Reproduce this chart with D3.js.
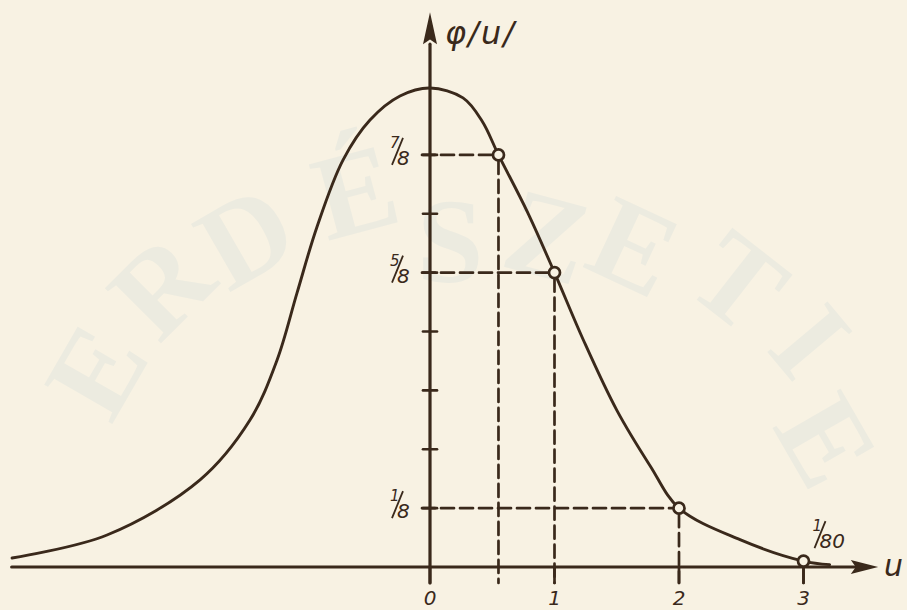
<!DOCTYPE html>
<html>
<head>
<meta charset="utf-8">
<script src="https://cdn.jsdelivr.net/npm/d3@7"></script>
<style>
  html, body { margin: 0; padding: 0; background: #f8f2e3; }
  svg { display: block; }
</style>
</head>
<body>
<svg id="chart" width="907" height="610"></svg>
<script>
// φ(u) curve, read as (u, φ) pairs
const curveU   = [-3.357, -2.594, -1.847, -1.446, -1.229, -1.068, -0.908, -0.699, -0.482, -0.241, 0, 0.265, 0.418, 0.55, 0.78, 1, 1.23, 1.50, 1.77, 2, 2.49, 3, 3.21];
const curvePhi = [0.019, 0.068, 0.185, 0.312, 0.439, 0.582, 0.722, 0.864, 0.949, 1.0, 1.017, 0.996, 0.947, 0.875, 0.755, 0.625, 0.483, 0.333, 0.214, 0.125, 0.058, 0.0125, 0.005];

// marked points on the curve and their labels
const markU   = [0.55, 1, 2, 3];
const markPhi = [7/8, 5/8, 1/8, 1/80];
const markNum = ["7", "5", "1", "1"];
const markDen = ["8", "8", "8", "80"];

// axis ticks
const yTickValues = [1/8, 2/8, 3/8, 4/8, 5/8, 6/8, 7/8];
const xTickValues = [0, 1, 2, 3];
const xTickLabels = ["0", "1", "2", "3"];

const ink = "#3a291b";
const paper = "#f8f2e3";
const svg = d3.select("#chart");

const x = d3.scaleLinear().domain([0, 1]).range([430, 554.5]);
const y = d3.scaleLinear().domain([0, 1]).range([567, 96]);

// faint paper watermark
const wm = svg.append("g").attr("font-family", "Liberation Serif, serif")
  .attr("font-weight", "bold").attr("font-size", 120).attr("fill", "#ecebe0")
  .attr("text-anchor", "middle");
[["E", 95, 370, -60], ["R", 160, 285, -45], ["D", 245, 235, -30], ["É", 355, 190, -15],
 ["S", 450, 240, 0], ["Z", 548, 235, 15], ["E", 635, 245, 25], ["T", 740, 280, 38],
 ["I", 812, 340, 50], ["E", 828, 440, 60]].forEach(([ch, cx, cy, r]) => {
  wm.append("text").attr("transform", `translate(${cx},${cy}) rotate(${r})`)
    .attr("dy", "0.35em").text(ch);
});

const g = svg.append("g").attr("stroke-linecap", "round");

// dashed guide lines from the axes to each marked point
const dash = "13,6";
markU.forEach((u, i) => {
  if (i === 3) return;
  g.append("line").attr("x1", x(0) - 8).attr("x2", x(u) - 5)
    .attr("y1", y(markPhi[i])).attr("y2", y(markPhi[i]))
    .attr("stroke", ink).attr("stroke-width", 2.7).attr("stroke-dasharray", dash);
  g.append("line").attr("x1", x(u)).attr("x2", x(u))
    .attr("y1", y(markPhi[i]) + 6).attr("y2", y(-0.034))
    .attr("stroke", ink).attr("stroke-width", 2.7).attr("stroke-dasharray", dash);
});
// solid stem under the last point
g.append("line").attr("x1", x(markU[3])).attr("x2", x(markU[3]))
  .attr("y1", y(markPhi[3]) + 5).attr("y2", y(-0.034))
  .attr("stroke", ink).attr("stroke-width", 2.7);

// x axis with arrow
g.append("line").attr("x1", x(-3.36)).attr("x2", x(3.45)).attr("y1", y(0)).attr("y2", y(0))
  .attr("stroke", ink).attr("stroke-width", 3.2);
g.append("path").attr("d", `M${x(3.6)},${y(0)} L${x(3.38)},${y(0) - 7} L${x(3.42)},${y(0)} L${x(3.38)},${y(0) + 7} Z`)
  .attr("fill", ink);

// y axis with arrow
g.append("line").attr("x1", x(0)).attr("x2", x(0)).attr("y1", y(-0.034)).attr("y2", y(1.11))
  .attr("stroke", ink).attr("stroke-width", 3.2);
g.append("path").attr("d", `M${x(0)},${y(1.178)} L${x(0) - 7},${y(1.11)} L${x(0)},${y(1.12)} L${x(0) + 7},${y(1.11)} Z`)
  .attr("fill", ink);

// y ticks crossing the axis
g.selectAll(".ytick").data(yTickValues).join("line")
  .attr("x1", x(0) - 7).attr("x2", x(0) + 7)
  .attr("y1", d => y(d)).attr("y2", d => y(d))
  .attr("stroke", ink).attr("stroke-width", 2.7);

// x tick marks below the axis
g.selectAll(".xtick").data(xTickValues).join("line")
  .attr("x1", d => x(d)).attr("x2", d => x(d))
  .attr("y1", y(0)).attr("y2", y(-0.034))
  .attr("stroke", ink).attr("stroke-width", 2.7);

// the curve
const pts = curveU.map((u, i) => [x(u), y(curvePhi[i])]);
g.append("path").attr("d", d3.line().curve(d3.curveCatmullRom.alpha(0.5))(pts))
  .attr("fill", "none").attr("stroke", ink).attr("stroke-width", 2.9);

// marked points
g.selectAll(".mark").data(markU).join("circle")
  .attr("cx", d => x(d)).attr("cy", (d, i) => y(markPhi[i])).attr("r", 5.5)
  .attr("fill", paper).attr("stroke", ink).attr("stroke-width", 2.7);

// text
const txt = svg.append("g").attr("fill", ink).attr("font-family", "DejaVu Sans, sans-serif")
  .attr("font-style", "italic");

// hand-lettered style fraction: small numerator, long slash, larger denominator
function fraction(px, py, num, den) {
  const f = txt.append("g").attr("transform", `translate(${px},${py})`);
  f.append("text").attr("x", 0).attr("y", -7).attr("font-size", 15).text(num);
  f.append("line").attr("x1", 2).attr("y1", 10).attr("x2", 13).attr("y2", -17)
    .attr("stroke", ink).attr("stroke-width", 1.8);
  f.append("text").attr("x", 7).attr("y", 10).attr("font-size", 20).text(den);
}

// labels of the three guide values on the y axis
[0, 1, 2].forEach(i => fraction(x(0) - 40, y(markPhi[i]), markNum[i], markDen[i]));
// label of the tail point
fraction(x(markU[3]) + 9, y(markPhi[3]) - 23, markNum[3], markDen[3]);

// x tick labels
txt.selectAll(".xl").data(xTickValues).join("text")
  .attr("x", d => x(d)).attr("y", 605).attr("text-anchor", "middle").attr("font-size", 20)
  .text((d, i) => xTickLabels[i]);

// axis titles
txt.append("text").attr("x", x(0) + 15).attr("y", 44).attr("font-size", 32)
  .attr("letter-spacing", 2).text("φ/u/");
txt.append("text").attr("x", 884).attr("y", 576).attr("font-size", 30).text("u");
</script>
</body>
</html>
